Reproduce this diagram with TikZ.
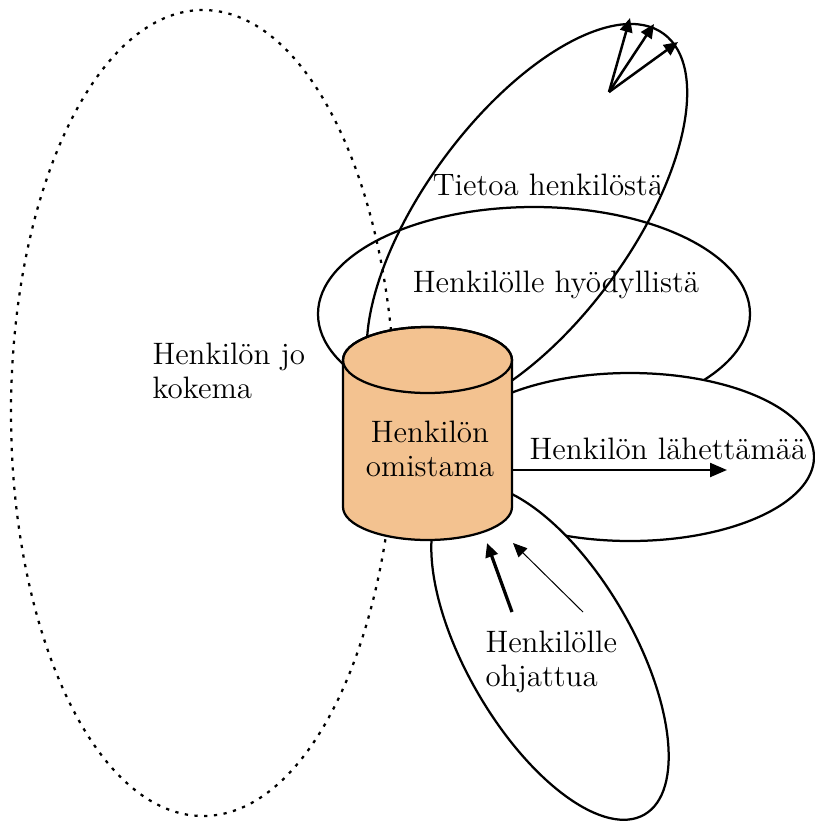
\documentclass[tikz,border=0pt]{standalone}
\definecolor{cylorange}{HTML}{F3C290}
\usepackage{tikz}
\usetikzlibrary{arrows.meta,positioning}

\begin{document}
\begin{tikzpicture}[x=0.4pt,y=-0.4pt,
  ring/.style={line width=0.9pt,black},
  lbl/.style={inner sep=0pt,font=\fontsize{12.4}{13.6}\selectfont},
  tip/.style={-{Triangle[length=5.6pt,width=5pt]}}]
\useasboundingbox (0,0) rectangle (815,822);
% areas round the store
\draw[ring,dash pattern=on 1.3pt off 2.6pt] (203,413) ellipse [x radius=192,y radius=403];
\draw[ring,rotate around={53.7:(527,220)}] (527,220) ellipse [x radius=231,y radius=103.5];
\draw[ring] (534,314) ellipse [x radius=216,y radius=107];
\filldraw[ring,fill=white] (630,457) ellipse [x radius=184,y radius=84];
\filldraw[ring,fill=white,rotate around={-59.8:(550,652)}] (550,652) ellipse [x radius=188,y radius=83];
% cylinder
\filldraw[ring,fill=cylorange] (343,360) -- (343,507)
  arc[start angle=180,end angle=0,x radius=84.5,y radius=33] -- (512,360)
  arc[start angle=0,end angle=-180,x radius=84.5,y radius=33] -- cycle;
\draw[ring] (427.5,360) ellipse [x radius=84.5,y radius=33];
% labels
\node[lbl,anchor=north west,align=left] (jokokema) at (152,342) {Henkilön jo\\kokema};
\node[lbl,align=center,minimum width=65.6pt,anchor=north] (own) at (430,420) {Henkilön\\omistama};
\node[lbl,anchor=base] (tieto) at (548,195) {Tietoa henkilöstä};
\node[lbl,anchor=base] (hyoty) at (556,292) {Henkilölle hyödyllistä};
\node[lbl,anchor=base] (lahetys) at (668,459) {Henkilön lähettämää};
\node[lbl,anchor=north west,align=left] (ohjaus) at (485,630) {Henkilölle\\ohjattua};
% arrows
\coordinate (sendtip) at (727,470);
\draw[line width=0.9pt,-{Triangle[length=6.8pt,width=5.6pt]}] (own.east |- sendtip) -- (sendtip);
\coordinate (src) at (609,92);
\coordinate (t1) at (630,18);
\coordinate (t2) at (654,24);
\coordinate (t3) at (678,42);
\foreach \t in {t1,t2,t3} \draw[tip,line width=1pt] (src) -- (\t);
\coordinate (in1) at (512,612);
\coordinate (in2) at (583,612);
\coordinate (end1) at (487,543);
\coordinate (end2) at (513,543);
\draw[tip,line width=1.3pt] (in1) -- (end1);
\draw[tip,line width=0.4pt] (in2) -- (end2);
\end{tikzpicture}
\end{document}
